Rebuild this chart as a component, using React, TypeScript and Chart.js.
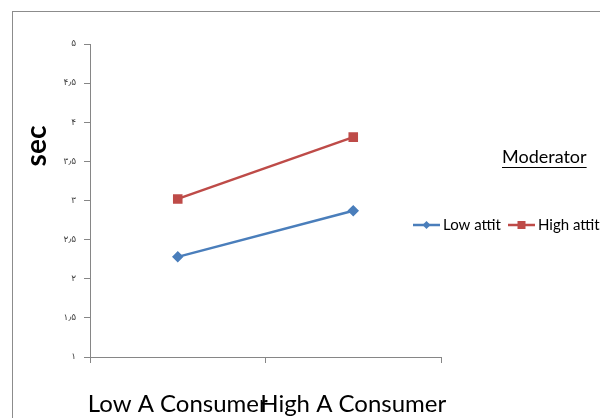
import React, { useEffect, useRef } from "react";
import { Chart, registerables } from "chart.js";

Chart.register(...registerables);

const categories = ["Low A Consumer", "High A Consumer"];
const lowAttit = [2.28, 2.87];
const highAttit = [3.02, 3.81];
const yTickLabels: Record<string, string> = {
  "1": "۱", "1.5": "۱٫۵", "2": "۲", "2.5": "۲٫۵", "3": "۳",
  "3.5": "۳٫۵", "4": "۴", "4.5": "۴٫۵", "5": "۵",
};
const seriesNames = ["Low attit", "High attit"];
const legendTitle = "Moderator";
const yTitle = "sec";

const BLUE = "#4a7ebb";
const RED = "#be4b48";
const FONT = "Lato, 'Open Sans', sans-serif";

const decorPlugin = {
  id: "decor",
  beforeDraw(chart: any) {
    const ctx = chart.ctx;
    ctx.save();
    ctx.strokeStyle = "#8c8c8c";
    ctx.lineWidth = 1;
    ctx.strokeRect(12.5, 11.5, 800, 600);
    ctx.restore();
  },
  afterDraw(chart: any) {
    const ctx = chart.ctx;
    ctx.save();
    ctx.translate(37, 146);
    ctx.rotate(-Math.PI / 2);
    ctx.font = `bold 28px ${FONT}`;
    ctx.fillStyle = "#000";
    ctx.textAlign = "center";
    ctx.textBaseline = "middle";
    ctx.fillText(yTitle, 0, 0);
    ctx.restore();

    ctx.save();
    ctx.font = `18px ${FONT}`;
    ctx.fillStyle = "#000";
    ctx.textBaseline = "middle";
    ctx.textAlign = "left";
    const tw = ctx.measureText(legendTitle).width;
    const tx = 502;
    ctx.fillText(legendTitle, tx, 157);
    ctx.strokeStyle = "#000";
    ctx.lineWidth = 1;
    ctx.beginPath();
    ctx.moveTo(tx, 167.5);
    ctx.lineTo(tx + tw, 167.5);
    ctx.stroke();

    const y = 225;
    const items = [
      { x: 413, color: BLUE, shape: "diamond", label: seriesNames[0] },
      { x: 508, color: RED, shape: "square", label: seriesNames[1] },
    ];
    ctx.font = `15px ${FONT}`;
    for (const it of items) {
      ctx.strokeStyle = it.color;
      ctx.lineWidth = 2.5;
      ctx.beginPath();
      ctx.moveTo(it.x, y);
      ctx.lineTo(it.x + 27, y);
      ctx.stroke();
      ctx.fillStyle = it.color;
      const cx = it.x + 13.5;
      if (it.shape === "diamond") {
        ctx.beginPath();
        ctx.moveTo(cx, y - 4);
        ctx.lineTo(cx + 4, y);
        ctx.lineTo(cx, y + 4);
        ctx.lineTo(cx - 4, y);
        ctx.closePath();
        ctx.fill();
      } else {
        ctx.fillRect(cx - 4, y - 4, 8, 8);
      }
      ctx.fillStyle = "#000";
      ctx.fillText(it.label, it.x + 30, y);
    }
    ctx.restore();
  },
};

export default function App() {
  const ref = useRef<HTMLCanvasElement>(null);
  useEffect(() => {
    if (!ref.current) return;
    const chart = new Chart(ref.current, {
      type: "line",
      data: {
        labels: categories,
        datasets: [
          {
            label: seriesNames[0],
            data: lowAttit,
            borderColor: BLUE,
            backgroundColor: BLUE,
            borderWidth: 2.5,
            pointStyle: "rectRot",
            pointRadius: 4,
            pointHoverRadius: 4,
          },
          {
            label: seriesNames[1],
            data: highAttit,
            borderColor: RED,
            backgroundColor: RED,
            borderWidth: 2.5,
            pointStyle: "rect",
            pointRadius: 5,
            pointHoverRadius: 5,
          },
        ],
      },
      options: {
        animation: false,
        responsive: false,
        layout: { padding: { top: 44, right: 159, left: 0, bottom: 0 } },
        plugins: { legend: { display: false }, tooltip: { enabled: false } },
        scales: {
          x: {
            offset: true,
            grid: { offset: true, drawOnChartArea: false, tickLength: 6, color: "#868686" },
            border: { color: "#868686" },
            ticks: {
              font: { family: FONT, size: 24 },
              color: "#000",
              padding: 27,
              maxRotation: 0,
              autoSkip: false,
            },
            afterFit(scale: any) {
              scale.height = 61;
            },
          },
          y: {
            min: 1,
            max: 5,
            grid: { drawOnChartArea: false, tickLength: 6, color: "#868686" },
            border: { color: "#868686" },
            ticks: {
              stepSize: 0.5,
              font: { family: "'DejaVu Sans', sans-serif", size: 9 },
              color: "#404040",
              padding: 8,
              callback: (v: any) => yTickLabels[String(v)] ?? String(v),
            },
            afterFit(scale: any) {
              scale.width = 90;
            },
          },
        },
      },
      plugins: [decorPlugin],
    });
    return () => chart.destroy();
  }, []);
  return (
    <div style={{ position: "fixed", left: 0, top: 0, width: 600, height: 418, background: "#fff" }}>
      <canvas ref={ref} width={600} height={418} style={{ display: "block" }} />
    </div>
  );
}
